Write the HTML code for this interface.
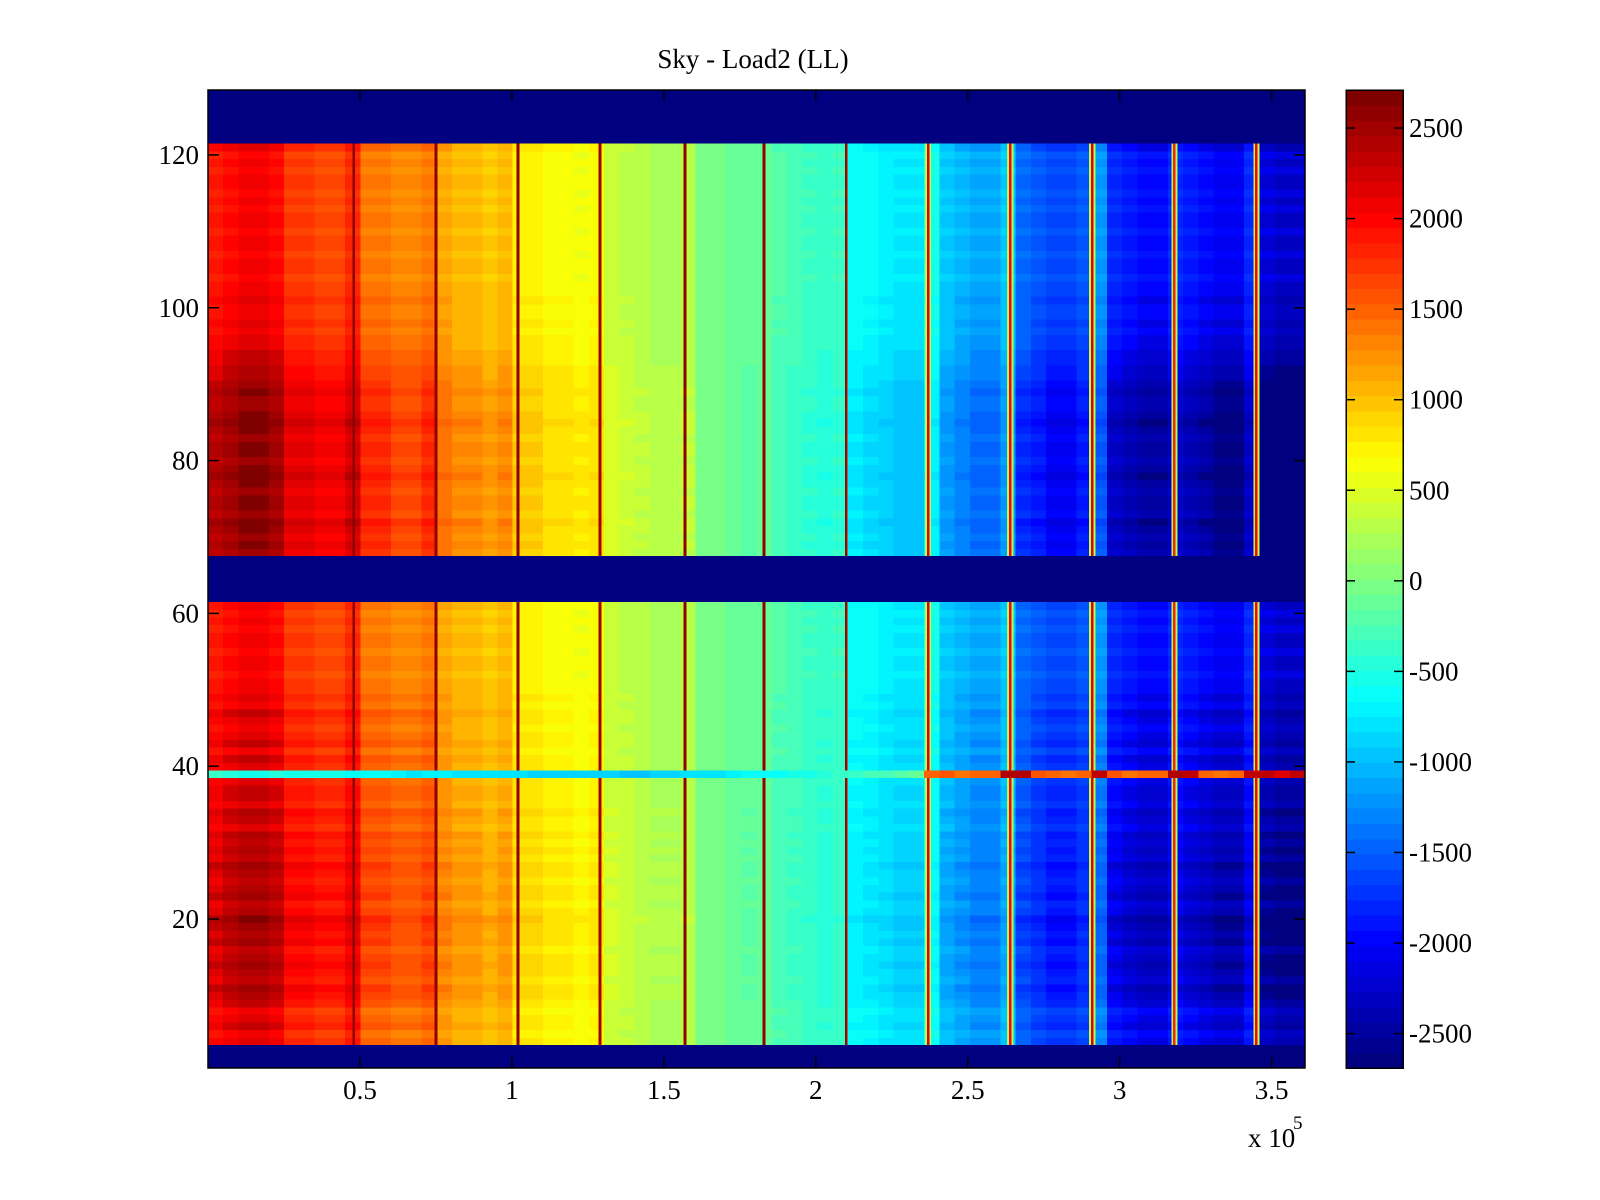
<!DOCTYPE html>
<html><head><meta charset="utf-8"><style>
body{margin:0;background:#fff;width:1600px;height:1200px;overflow:hidden;font-family:"Liberation Serif",serif}
#heat rect,#cbar rect{shape-rendering:crispEdges}
</style></head><body>
<svg id="fig" width="1600" height="1200" xmlns="http://www.w3.org/2000/svg" style="position:absolute;left:0;top:0">
<text x="753" y="68" font-size="27" text-anchor="middle" font-family="Liberation Serif, serif">Sky - Load2 (LL)</text>
<g id="heat"></g>
<g id="cbar"></g>
<g id="axes"></g>
<text x="1248" y="1147" font-size="27" font-family="Liberation Serif, serif">x 10</text>
<text x="1293" y="1129" font-size="19" font-family="Liberation Serif, serif">5</text>
</svg>
<script>
const colMeans=[2000,2100,2200,2200,2100,1800,1800,1700,1700,1900,1500,1500,1400,1400,1500,1200,1100,1100,1000,1100,800,800,700,700,650,700,400,350,300,250,250,300,0,-50,-100,-150,-100,-250,-300,-350,-400,-350,-650,-700,-750,-800,-800,-600,-1000,-1100,-1200,-1200,-1000,-1500,-1600,-1700,-1700,-1600,-1300,-1900,-2000,-2100,-2100,-1900,-2000,-2100,-2200,-2200,-1900,-2300,-2400,-2400];
const row39=[-400,-450,-500,-500,-450,-500,-550,-500,-550,-600,-600,-650,-700,-750,-700,-700,-750,-800,-800,-750,-800,-850,-850,-900,-900,-850,-900,-950,-950,-900,-850,-800,-800,-750,-700,-650,-650,-600,-550,-500,-450,-400,-350,-300,-250,-200,-100,1500,1600,1400,1500,1500,2400,2400,1600,1500,1400,1500,2300,1600,1400,1500,1500,2400,2300,1500,1400,1500,2300,2300,2200,2300];
const stripeX=[48000,75000,102000,129000,157000,183000,210000,237000,264000,291000,318000,345000];
const stripeVal=[2600,2600,2600,2500,2600,2600,2500,2200,2000,2200,1800,2000];
const bandVal=[0,0,0,0,0,0,0,300,200,300,200,300];
const maskedRows=[1,2,3,62,63,64,65,66,67,122,123,124,125,126,127,128];
const rowGain=[1,1,1,1.0,0.95,1.05,1.0,0.95,1.05,1.1,1.15,1.05,1.1,1.15,1.1,1.05,1.15,1.1,1.15,1.2,1.1,1.05,1.15,1.1,1.05,1.1,1.15,1.05,1.1,1.05,1.1,1.0,1.05,1.1,1.0,1.05,1.05,1.0,1,1.0,1.05,0.95,1.05,1.0,0.95,1.0,1.05,0.95,1.0,0.95,0.95,0.9,0.95,0.95,0.9,0.95,0.95,0.9,0.95,0.9,0.95,1,1,1,1,1,1,1.15,1.2,1.15,1.2,1.25,1.15,1.2,1.2,1.15,1.2,1.25,1.2,1.15,1.2,1.2,1.15,1.2,1.25,1.2,1.15,1.15,1.2,1.15,1.1,1.1,1.05,1.05,1.0,1.0,0.95,1.0,0.95,0.95,1.0,0.95,0.95,0.9,0.95,0.95,0.9,0.95,0.95,0.9,0.95,0.95,0.9,0.95,0.9,0.95,0.95,0.9,0.95,0.9,1,1,1,1,1,1,1];
const xTicks=[0.5,1,1.5,2,2.5,3,3.5];
const yTicks=[20,40,60,80,100,120];
const cTicks=[2500,2000,1500,1000,500,0,-500,-1000,-1500,-2000,-2500];

const NS="http://www.w3.org/2000/svg";
const L=208,R=1305,T=90,B=1068,XMAX=361000,NROW=128;
const CL=1346,CR=1403,CMIN=-2690,CMAX=2710;
const xs=v=>L+v/XMAX*(R-L);
const ys=v=>B-(v-0.5)*(B-T)/NROW;
const cs=v=>B-(v-CMIN)/(CMAX-CMIN)*(B-T);
function jet(v){let t=(v-CMIN)/(CMAX-CMIN);t=Math.max(0,Math.min(1,t));t=Math.min(63,Math.floor(t*64))/63;
 const c=x=>Math.round(255*Math.max(0,Math.min(1,x)));
 return `rgb(${c(1.5-Math.abs(4*t-3))},${c(1.5-Math.abs(4*t-2))},${c(1.5-Math.abs(4*t-1))})`;}
function mk(tag,attrs,parent){const e=document.createElementNS(NS,tag);for(const k in attrs)e.setAttribute(k,attrs[k]);parent.appendChild(e);return e;}
const heat=document.getElementById('heat');
const bw=XMAX/colMeans.length;
for(let r=1;r<=NROW;r++){
 if(maskedRows.includes(r))continue;
 const y0=ys(r+0.5),y1=ys(r-0.5);
 for(let c=0;c<colMeans.length;c++){
  const v=(r===39)?row39[c]:colMeans[c]*rowGain[r-1];
  const x0=xs(c*bw),x1=xs((c+1)*bw);
  const e=mk('rect',{x:x0,y:y0,width:x1-x0+0.6,height:y1-y0+0.4,fill:jet(v)},heat);
  
  
 }
 if(r!==39){
  for(let s=0;s<stripeX.length;s++){
   if(bandVal[s]){const b=mk('rect',{x:xs(stripeX[s]-1000),y:y0,width:xs(stripeX[s]+1000)-xs(stripeX[s]-1000),height:y1-y0+0.4,fill:jet(bandVal[s])},heat);
    
    }
   const e=mk('rect',{x:xs(stripeX[s]-450),y:y0,width:xs(stripeX[s]+450)-xs(stripeX[s]-450),height:y1-y0+0.4,fill:jet(stripeVal[s])},heat);
   
   
  }
 }
}
// masked blocks drawn as contiguous ranges
let i=0;
while(i<maskedRows.length){let j=i;while(j+1<maskedRows.length&&maskedRows[j+1]===maskedRows[j]+1)j++;
 const y0=ys(maskedRows[j]+0.5),y1=ys(maskedRows[i]-0.5);
 const e=mk('rect',{x:L,y:y0,width:R-L,height:y1-y0,fill:jet(CMIN)},heat);
 
 
 i=j+1;}
const axes=document.getElementById('axes');
const fr=mk('rect',{x:L,y:T,width:R-L,height:B-T,fill:'none',stroke:'#000','stroke-width':1.5},axes);


xTicks.forEach(t=>{const x=xs(t*1e5);
 mk('line',{x1:x,x2:x,y1:B,y2:B-11,stroke:'#000','stroke-width':1.5},axes);
 mk('line',{x1:x,x2:x,y1:T,y2:T+11,stroke:'#000','stroke-width':1.5},axes);
 const e=mk('text',{x:x,y:1099,'font-size':27,'text-anchor':'middle','font-family':'Liberation Serif, serif'},axes);
 e.textContent=String(t);
 
 });
yTicks.forEach(t=>{const y=ys(t);
 mk('line',{x1:L,x2:L+11,y1:y,y2:y,stroke:'#000','stroke-width':1.5},axes);
 mk('line',{x1:R,x2:R-11,y1:y,y2:y,stroke:'#000','stroke-width':1.5},axes);
 const e=mk('text',{x:199,y:y+9,'font-size':27,'text-anchor':'end','font-family':'Liberation Serif, serif'},axes);
 e.textContent=String(t);
 
 });
const cb=document.getElementById('cbar');
for(let k=0;k<64;k++){const v0=CMIN+k*(CMAX-CMIN)/64,v1=CMIN+(k+1)*(CMAX-CMIN)/64;
 const e=mk('rect',{x:CL,y:cs(v1),width:CR-CL,height:cs(v0)-cs(v1)+0.5,fill:jet((v0+v1)/2)},cb);
 
 }
const cf=mk('rect',{x:CL,y:T,width:CR-CL,height:B-T,fill:'none',stroke:'#000','stroke-width':1.5},cb);


cTicks.forEach(t=>{const y=cs(t);
 mk('line',{x1:CL,x2:CL+9,y1:y,y2:y,stroke:'#000','stroke-width':1.5},cb);
 mk('line',{x1:CR,x2:CR-9,y1:y,y2:y,stroke:'#000','stroke-width':1.5},cb);
 const e=mk('text',{x:1409,y:y+9,'font-size':27,'font-family':'Liberation Serif, serif'},cb);
 e.textContent=String(t);
 
 });
</script>
</body></html>
